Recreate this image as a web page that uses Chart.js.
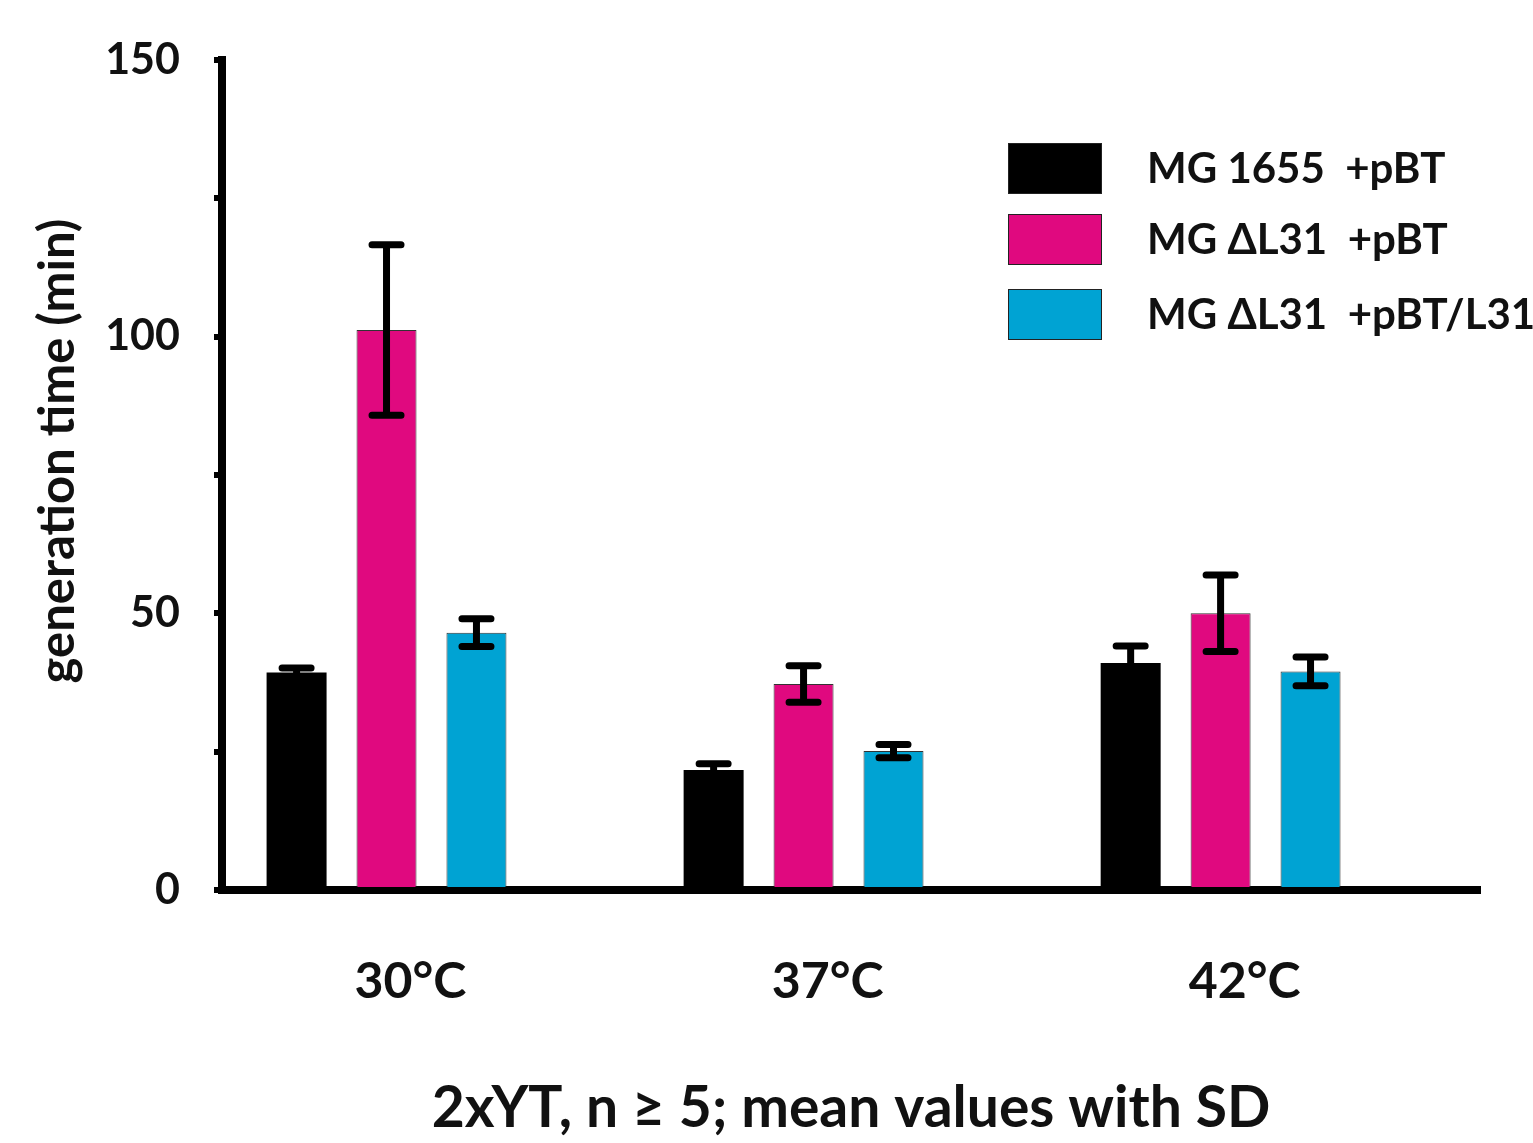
<!DOCTYPE html>
<html lang="en">
<head>
    <meta charset="UTF-8">
    <title>Generation time</title>
    <script src="https://cdn.jsdelivr.net/npm/chart.js"></script>
    <style>
        body {
            margin: 0;
            background: #fff;
        }
        .chart-container {
            position: relative;
            width: 1533px;
            height: 1143px;
        }
    </style>
</head>
<body>
    <div class="chart-container">
        <canvas id="genChart" width="1533" height="1143"></canvas>
    </div>

    <script>
        // Data
        const temperatures = ['30°C', '37°C', '42°C'];
        const strains = ['MG 1655  +pBT', 'MG ΔL31  +pBT', 'MG ΔL31  +pBT/L31'];
        const strainColors = ['#000000', '#E0097F', '#00A3D3'];

        const wtMean = [39.3, 21.7, 41.0];
        const wtSD = [0.8, 1.1, 3.1];
        const delMean = [101.2, 37.2, 50.0];
        const delSD = [15.4, 3.3, 6.9];
        const compMean = [46.5, 25.1, 39.5];
        const compSD = [2.5, 1.2, 2.6];

        const yTicks = [0, 25, 50, 75, 100, 125, 150];
        const yLabelled = [0, 50, 100, 150];

        const means = [wtMean, delMean, compMean];
        const sds = [wtSD, delSD, compSD];

        const FONT = 'Lato, "Noto Sans", sans-serif';

        // Error bars drawn on top of the bars
        const errorBarPlugin = {
            id: 'errorBars',
            afterDatasetsDraw(chart) {
                const ctx = chart.ctx;
                const y = chart.scales.y;
                ctx.save();
                ctx.strokeStyle = '#000';
                ctx.lineWidth = 7;
                ctx.lineCap = 'round';
                chart.data.datasets.forEach((ds, i) => {
                    const meta = chart.getDatasetMeta(i);
                    meta.data.forEach((bar, j) => {
                        const top = y.getPixelForValue(means[i][j] + sds[i][j]);
                        const bot = y.getPixelForValue(means[i][j] - sds[i][j]);
                        const half = 14.5;
                        ctx.beginPath();
                        ctx.moveTo(bar.x, top);
                        ctx.lineTo(bar.x, bot);
                        ctx.moveTo(bar.x - half, top);
                        ctx.lineTo(bar.x + half, top);
                        ctx.moveTo(bar.x - half, bot);
                        ctx.lineTo(bar.x + half, bot);
                        ctx.stroke();
                    });
                });
                ctx.restore();
            }
        };

        // Legend in the upper right corner
        const legendPlugin = {
            id: 'boxLegend',
            afterDraw(chart) {
                const ctx = chart.ctx;
                const rows = [143, 214, 289];
                ctx.save();
                chart.data.datasets.forEach((ds, i) => {
                    ctx.fillStyle = ds.backgroundColor;
                    ctx.fillRect(1008, rows[i], 93, 50);
                    ctx.strokeStyle = '#222';
                    ctx.lineWidth = 1;
                    ctx.strokeRect(1008.5, rows[i] + 0.5, 93, 50);
                    ctx.fillStyle = '#111';
                    ctx.font = 'bold 42px ' + FONT;
                    ctx.textBaseline = 'middle';
                    ctx.textAlign = 'left';
                    ctx.fillText(ds.label, 1147, rows[i] + 26);
                });
                ctx.restore();
            }
        };

        const datasets = strains.map((name, i) => ({
            label: name,
            data: means[i].map((v, j) => ({ x: j, y: v })),
            backgroundColor: strainColors[i],
            borderColor: i === 0 ? '#000' : '#333',
            borderWidth: i === 0 ? 0 : 1,
            categoryPercentage: 0.647,
            barPercentage: 0.667
        }));

        new Chart(document.getElementById('genChart'), {
            type: 'bar',
            data: { datasets: datasets },
            options: {
                responsive: false,
                animation: false,
                layout: { padding: { top: 55, right: 53, left: 0, bottom: 0 } },
                plugins: {
                    legend: { display: false },
                    tooltip: { enabled: false }
                },
                scales: {
                    x: {
                        type: 'linear',
                        offset: false,
                        min: -0.3945,
                        max: 2.622,
                        afterBuildTicks(scale) {
                            scale.ticks = temperatures.map((t, i) => ({ value: i }));
                        },
                        afterFit(scale) {
                            scale.height = 253;
                        },
                        grid: { offset: false, drawOnChartArea: false, drawTicks: false },
                        border: { display: true, color: '#000', width: 8 },
                        ticks: {
                            callback: (v) => temperatures[v],
                            labelOffset: 24,
                            padding: 62,
                            color: '#111',
                            font: { family: FONT, size: 50, weight: 'bold' }
                        },
                        title: {
                            display: true,
                            text: '2xYT, n ≥ 5; mean values with SD',
                            color: '#111',
                            padding: { top: 0, bottom: 0 },
                            font: { family: FONT, size: 57, weight: 'bold' }
                        }
                    },
                    y: {
                        min: 0,
                        max: 150,
                        afterBuildTicks(scale) {
                            scale.ticks = yTicks.map(v => ({ value: v }));
                        },
                        afterFit(scale) {
                            scale.width = 222;
                        },
                        grid: {
                            drawOnChartArea: false,
                            drawTicks: true,
                            tickLength: 8,
                            lineWidth: 6,
                            color: '#000'
                        },
                        border: { display: true, color: '#000', width: 8 },
                        ticks: {
                            callback: (v) => yLabelled.includes(v) ? String(v) : '',
                            padding: 34,
                            color: '#111',
                            font: { family: FONT, size: 43, weight: 'bold' }
                        },
                        title: {
                            display: true,
                            // leading spaces nudge the centred title upward a bit
                            text: '    generation time (min)',
                            color: '#111',
                            padding: { top: 29, bottom: 0 },
                            font: { family: FONT, size: 49, weight: 'bold' }
                        }
                    }
                }
            },
            plugins: [errorBarPlugin, legendPlugin]
        });
    </script>
</body>
</html>
